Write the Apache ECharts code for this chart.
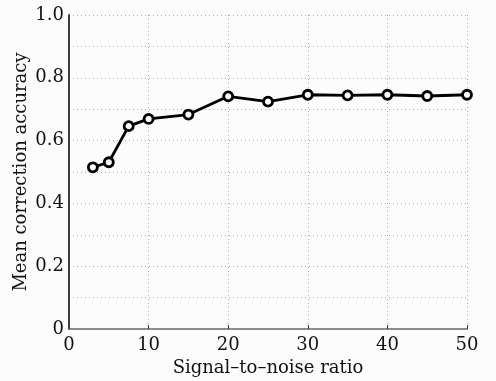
<!DOCTYPE html>
<html><head><meta charset="utf-8">
<script src="https://cdn.jsdelivr.net/npm/echarts@6/dist/echarts.min.js"></script>
<style>html,body{margin:0;padding:0;background:#fcfcfc;}#c{width:496px;height:381px;}</style>
</head><body><div id="c"></div>
<script>
var snr = [3, 5, 7.5, 10, 15, 20, 25, 30, 35, 40, 45, 50];
var accuracy = [0.515, 0.531, 0.646, 0.669, 0.683, 0.741, 0.724, 0.746, 0.744, 0.746, 0.742, 0.746];
var xTicks = [0, 10, 20, 30, 40, 50];
var yTickLabels = ['0', '0.2', '0.4', '0.6', '0.8', '1.0'];

var font = 'DejaVu Serif';
var chart = echarts.init(document.getElementById('c'));
var data = snr.map(function (x, i) { return [x, accuracy[i]]; });
chart.setOption({
  backgroundColor: '#fcfcfc',
  animation: false,
  grid: { left: 69, top: 15, right: 29, bottom: 52, outerBoundsMode: 'none', containLabel: false },
  xAxis: [{
    type: 'value', min: xTicks[0], max: xTicks[xTicks.length - 1], interval: 10,
    name: 'Signal\u2013to\u2013noise ratio', nameLocation: 'middle', nameGap: 30, nameMoveOverlap: false,
    nameTextStyle: { fontFamily: font, fontSize: 18, color: '#111' },
    axisLine: { show: true, lineStyle: { color: '#333', width: 1.5 } },
    axisTick: { show: true, inside: true, length: 4, lineStyle: { color: '#333' } },
    axisLabel: { fontFamily: font, fontSize: 18, color: '#111', margin: 7 },
    splitLine: { show: true, lineStyle: { type: [1, 3], color: '#aaa', width: 1 } }
  }, {
    type: 'value', position: 'top', min: 0, max: 50, interval: 10,
    axisLine: { show: true, lineStyle: { color: '#999', width: 1.5 } },
    axisTick: { show: false }, axisLabel: { show: false }, splitLine: { show: false }
  }],
  yAxis: [{
    type: 'value', min: 0, max: 1, interval: 0.1,
    name: 'Mean correction accuracy', nameLocation: 'middle', nameGap: 39, nameMoveOverlap: false,
    nameTextStyle: { fontFamily: font, fontSize: 18, color: '#111' },
    axisLine: { show: true, lineStyle: { color: '#333', width: 1.5 } },
    axisTick: { show: false },
    axisLabel: {
      fontFamily: font, fontSize: 18, color: '#111', margin: 5,
      formatter: function (v) {
        var k = Math.round(v * 10);
        return k % 2 === 0 ? yTickLabels[k / 2] : '';
      }
    },
    splitLine: { show: true, lineStyle: { type: [1, 3], color: '#aaa', width: 1 } }
  }, {
    type: 'value', position: 'right', min: 0, max: 1, interval: 0.1,
    axisLine: { show: true, lineStyle: { color: '#333', width: 1.5 } },
    axisTick: { show: false }, axisLabel: { show: false }, splitLine: { show: false }
  }],
  series: [{
    type: 'line', data: data, xAxisIndex: 0, yAxisIndex: 0,
    symbol: 'circle', symbolSize: 9, showAllSymbol: true,
    lineStyle: { color: '#000', width: 2.8 },
    itemStyle: { color: '#fcfcfc', borderColor: '#000', borderWidth: 2.8 },
    z: 5
  }]
});
</script></body></html>
